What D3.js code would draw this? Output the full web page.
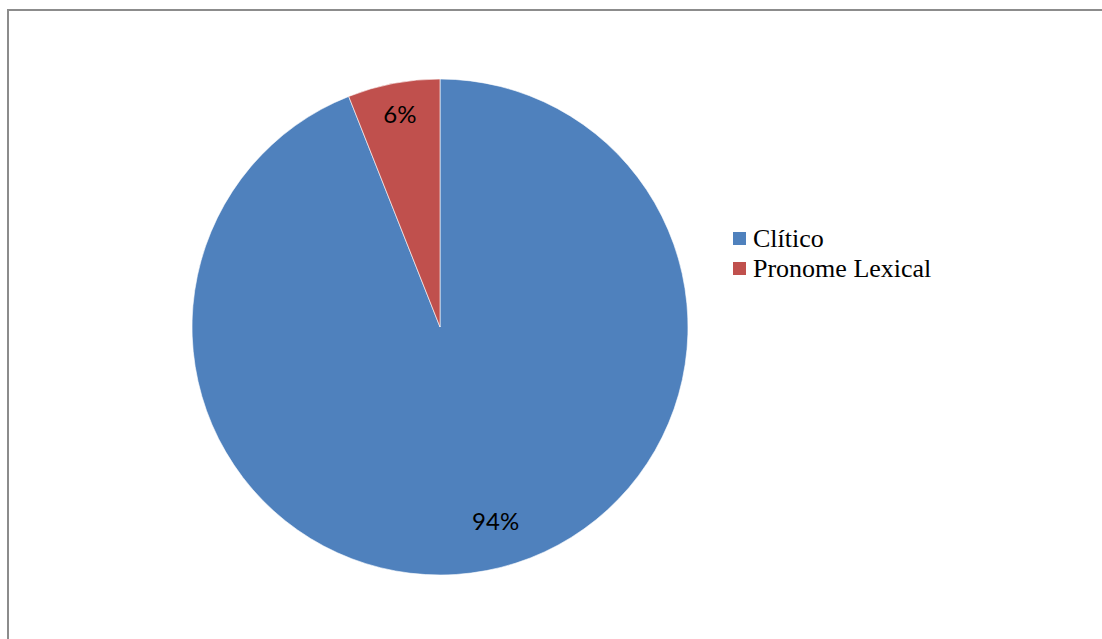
<!DOCTYPE html>
<html>
<head>
<meta charset="utf-8">
<script src="https://cdn.jsdelivr.net/npm/d3@7"></script>
<style>
  html, body { margin: 0; padding: 0; background: #fff; overflow: hidden; }
  svg { display: block; }
</style>
</head>
<body>
<svg id="chart" width="1102" height="639"></svg>
<script>
// Share of pronoun forms
const categories = ["Clítico", "Pronome Lexical"];
const values = [94, 6];
const labels = ["94%", "6%"];
const colors = ["#4F81BD", "#C0504D"];

const svg = d3.select("#chart");
const W = 1102, H = 639;

// Chart frame (runs off the right and bottom edges)
svg.append("rect")
  .attr("x", 8).attr("y", 10)
  .attr("width", W + 10).attr("height", H + 10)
  .attr("fill", "#fff")
  .attr("stroke", "#8c8c8c")
  .attr("stroke-width", 2);

const cx = 440, cy = 327, R = 248;

const pie = d3.pie().sort(null).value(d => d.value);
const data = categories.map((c, i) => ({ name: c, value: values[i], label: labels[i], color: colors[i] }));
const arcs = pie(data);

const arc = d3.arc().innerRadius(0).outerRadius(R);

const g = svg.append("g").attr("transform", `translate(${cx},${cy})`);

g.selectAll("path.slice")
  .data(arcs)
  .enter().append("path")
  .attr("class", "slice")
  .attr("d", arc)
  .attr("fill", d => d.data.color)
  .attr("stroke", "#ffffff")
  .attr("stroke-width", 0.6);

// Data labels placed inside each slice
const labelRadius = [206, 214];
const labelShift = [[17, -9], [0, -3]];
g.selectAll("text.lbl")
  .data(arcs)
  .enter().append("text")
  .attr("class", "lbl")
  .attr("transform", (d, i) => {
    const a = (d.startAngle + d.endAngle) / 2;
    const r = labelRadius[i];
    const x = r * Math.sin(a) + labelShift[i][0];
    const y = -r * Math.cos(a) + labelShift[i][1];
    return `translate(${x},${y})`;
  })
  .attr("text-anchor", "middle")
  .attr("dominant-baseline", "central")
  .attr("font-family", "Lato, 'Noto Sans', sans-serif")
  .attr("font-size", 24)
  .attr("fill", "#000")
  .text(d => d.data.label);

// Legend
const legend = svg.append("g").attr("transform", "translate(733,232)");
const rowH = 30;
const items = legend.selectAll("g.item")
  .data(data)
  .enter().append("g")
  .attr("class", "item")
  .attr("transform", (d, i) => `translate(0,${i * rowH})`);

items.append("rect")
  .attr("x", 0).attr("y", 0)
  .attr("width", 13).attr("height", 13)
  .attr("fill", d => d.color);

items.append("text")
  .attr("x", 20).attr("y", 15)
  .attr("font-family", "'Liberation Serif', 'Times New Roman', serif")
  .attr("font-size", 26)
  .attr("fill", "#000")
  .text(d => d.name);
</script>
</body>
</html>
